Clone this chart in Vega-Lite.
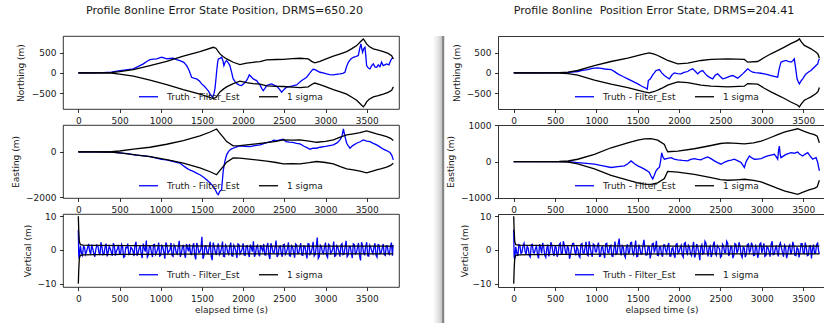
{
"$schema": "https://vega.github.io/schema/vega-lite/v6.json",
"background": "white",
"padding": {"left": 10, "top": 0, "right": 0, "bottom": 0},
"config": {
 "font": "DejaVu Sans",
 "view": {"stroke": "#000000", "strokeWidth": 0.8},
 "axis": {"grid": false, "domain": false, "format": "d", "tickColor": "#000000", "tickSize": 3.5, "tickWidth": 0.8, "labelFontSize": 9, "titleFontSize": 9, "labelColor": "#1a1a1a", "titleColor": "#1a1a1a", "titleFontWeight": "normal", "labelPadding": 3.5, "titlePadding": 4, "labelFlush": false, "labelOverlap": false, "labelBound": false, "domainColor": "#000000", "domainWidth": 0.8},
 "axisX": {"titlePadding": 2},
 "legend": {"orient": "none", "legendX": 75, "legendY": 50, "direction": "horizontal", "title": null, "symbolType": "stroke", "symbolSize": 361, "symbolStrokeWidth": 1.5, "labelFontSize": 9, "labelColor": "#1a1a1a", "labelOffset": 8, "columnPadding": 16, "padding": 0},
 "title": {"fontSize": 11.1, "fontWeight": "normal", "color": "#1a1a1a", "offset": 20, "lineHeight": 4, "anchor": "middle"},
 "line": {"strokeWidth": 1.3}
},
"datasets": {
 "LNe": [{"t":0,"v":0},{"t":150,"v":0},{"t":300,"v":5},{"t":400,"v":20},{"t":506,"v":57},{"t":580,"v":75},{"t":668,"v":98},{"t":730,"v":160},{"t":789,"v":222},{"t":830,"v":280},{"t":870,"v":328},{"t":910,"v":340},{"t":951,"v":345},{"t":1011,"v":386},{"t":1040,"v":370},{"t":1072,"v":345},{"t":1110,"v":355},{"t":1153,"v":361},{"t":1190,"v":330},{"t":1234,"v":304},{"t":1280,"v":260},{"t":1315,"v":180},{"t":1345,"v":60},{"t":1375,"v":-107},{"t":1400,"v":-130},{"t":1436,"v":-148},{"t":1470,"v":-200},{"t":1497,"v":-271},{"t":1530,"v":-330},{"t":1557,"v":-394},{"t":1580,"v":-450},{"t":1598,"v":-517},{"t":1615,"v":-560},{"t":1630,"v":-600},{"t":1645,"v":-520},{"t":1658,"v":-394},{"t":1668,"v":-200},{"t":1678,"v":16},{"t":1690,"v":250},{"t":1699,"v":345},{"t":1720,"v":360},{"t":1739,"v":386},{"t":1755,"v":300},{"t":1767,"v":180},{"t":1785,"v":280},{"t":1800,"v":304},{"t":1820,"v":250},{"t":1840,"v":180},{"t":1860,"v":20},{"t":1880,"v":-148},{"t":1905,"v":-220},{"t":1929,"v":-271},{"t":1955,"v":-300},{"t":1981,"v":-312},{"t":2010,"v":-260},{"t":2042,"v":-189},{"t":2060,"v":-120},{"t":2075,"v":-49},{"t":2095,"v":-90},{"t":2124,"v":-148},{"t":2145,"v":-170},{"t":2164,"v":-189},{"t":2185,"v":-250},{"t":2205,"v":-296},{"t":2225,"v":-380},{"t":2245,"v":-435},{"t":2265,"v":-380},{"t":2286,"v":-312},{"t":2315,"v":-290},{"t":2346,"v":-271},{"t":2375,"v":-300},{"t":2407,"v":-329},{"t":2440,"v":-400},{"t":2468,"v":-476},{"t":2500,"v":-400},{"t":2528,"v":-353},{"t":2560,"v":-340},{"t":2589,"v":-329},{"t":2620,"v":-310},{"t":2650,"v":-296},{"t":2680,"v":-240},{"t":2711,"v":-189},{"t":2740,"v":-150},{"t":2771,"v":-107},{"t":2800,"v":-30},{"t":2832,"v":57},{"t":2850,"v":90},{"t":2873,"v":82},{"t":2900,"v":50},{"t":2933,"v":16},{"t":2970,"v":0},{"t":3014,"v":-25},{"t":3050,"v":-40},{"t":3095,"v":-49},{"t":3130,"v":-35},{"t":3176,"v":-25},{"t":3210,"v":-10},{"t":3236,"v":16},{"t":3255,"v":150},{"t":3277,"v":263},{"t":3305,"v":340},{"t":3337,"v":386},{"t":3365,"v":400},{"t":3398,"v":427},{"t":3415,"v":600},{"t":3430,"v":714},{"t":3440,"v":600},{"t":3450,"v":509},{"t":3465,"v":600},{"t":3479,"v":632},{"t":3490,"v":400},{"t":3499,"v":180},{"t":3520,"v":120},{"t":3540,"v":98},{"t":3560,"v":180},{"t":3580,"v":222},{"t":3600,"v":150},{"t":3621,"v":140},{"t":3640,"v":200},{"t":3660,"v":150},{"t":3681,"v":263},{"t":3700,"v":180},{"t":3720,"v":200},{"t":3742,"v":222},{"t":3770,"v":200},{"t":3790,"v":300},{"t":3803,"v":345},{"t":3820,"v":380}],
 "LNs": [{"t":0,"u":0,"l":0},{"t":200,"u":0,"l":0},{"t":400,"u":5,"l":-5},{"t":500,"u":30,"l":-30},{"t":668,"u":82,"l":-82},{"t":870,"u":180,"l":-180},{"t":1072,"u":287,"l":-287},{"t":1274,"u":411,"l":-411},{"t":1476,"u":525,"l":-525},{"t":1638,"u":632,"l":-632},{"t":1670,"u":608,"l":-608},{"t":1719,"u":468,"l":-468},{"t":1760,"u":400,"l":-400},{"t":1800,"u":345,"l":-345},{"t":1880,"u":263,"l":-263},{"t":1961,"u":205,"l":-205},{"t":2042,"u":240,"l":-240},{"t":2120,"u":262,"l":-262},{"t":2205,"u":279,"l":-279},{"t":2286,"u":320,"l":-320},{"t":2400,"u":330,"l":-330},{"t":2488,"u":335,"l":-335},{"t":2600,"u":350,"l":-350},{"t":2690,"u":361,"l":-361},{"t":2791,"u":345,"l":-345},{"t":2832,"u":285,"l":-285},{"t":2870,"u":250,"l":-250},{"t":2933,"u":287,"l":-287},{"t":3000,"u":340,"l":-340},{"t":3095,"u":411,"l":-411},{"t":3180,"u":470,"l":-470},{"t":3257,"u":525,"l":-525},{"t":3320,"u":600,"l":-600},{"t":3378,"u":673,"l":-673},{"t":3430,"u":780,"l":-780},{"t":3459,"u":837,"l":-837},{"t":3480,"u":780,"l":-780},{"t":3499,"u":714,"l":-714},{"t":3530,"u":650,"l":-650},{"t":3580,"u":591,"l":-591},{"t":3640,"u":560,"l":-560},{"t":3702,"u":525,"l":-525},{"t":3760,"u":480,"l":-480},{"t":3803,"u":427,"l":-427},{"t":3823,"u":345,"l":-345}],
 "LEe": [{"t":0,"v":0},{"t":200,"v":0},{"t":400,"v":-10},{"t":500,"v":-40},{"t":600,"v":-80},{"t":700,"v":-140},{"t":800,"v":-180},{"t":870,"v":-206},{"t":950,"v":-280},{"t":1010,"v":-330},{"t":1072,"v":-353},{"t":1110,"v":-390},{"t":1153,"v":-426},{"t":1200,"v":-480},{"t":1234,"v":-500},{"t":1270,"v":-600},{"t":1315,"v":-720},{"t":1350,"v":-800},{"t":1396,"v":-867},{"t":1440,"v":-950},{"t":1476,"v":-1014},{"t":1520,"v":-1120},{"t":1557,"v":-1235},{"t":1600,"v":-1380},{"t":1638,"v":-1529},{"t":1665,"v":-1700},{"t":1685,"v":-1850},{"t":1699,"v":-1896},{"t":1715,"v":-1750},{"t":1739,"v":-1676},{"t":1750,"v":-1200},{"t":1760,"v":-794},{"t":1780,"v":-400},{"t":1800,"v":-132},{"t":1820,"v":0},{"t":1840,"v":88},{"t":1860,"v":130},{"t":1880,"v":162},{"t":1920,"v":220},{"t":1961,"v":265},{"t":2020,"v":250},{"t":2083,"v":235},{"t":2140,"v":280},{"t":2205,"v":309},{"t":2250,"v":370},{"t":2286,"v":412},{"t":2340,"v":450},{"t":2370,"v":520},{"t":2407,"v":500},{"t":2450,"v":530},{"t":2488,"v":559},{"t":2520,"v":456},{"t":2560,"v":430},{"t":2600,"v":420},{"t":2650,"v":380},{"t":2690,"v":353},{"t":2740,"v":250},{"t":2780,"v":180},{"t":2811,"v":118},{"t":2850,"v":170},{"t":2892,"v":162},{"t":2933,"v":206},{"t":3000,"v":240},{"t":3050,"v":280},{"t":3095,"v":309},{"t":3140,"v":400},{"t":3176,"v":529},{"t":3200,"v":700},{"t":3217,"v":1014},{"t":3235,"v":700},{"t":3257,"v":382},{"t":3280,"v":250},{"t":3297,"v":162},{"t":3330,"v":280},{"t":3378,"v":382},{"t":3420,"v":450},{"t":3459,"v":529},{"t":3500,"v":480},{"t":3540,"v":456},{"t":3580,"v":380},{"t":3621,"v":309},{"t":3660,"v":220},{"t":3702,"v":118},{"t":3740,"v":60},{"t":3783,"v":-29},{"t":3805,"v":-150},{"t":3823,"v":-353}],
 "LEs": [{"t":0,"u":0,"l":0},{"t":200,"u":0,"l":0},{"t":400,"u":5,"l":-5},{"t":500,"u":40,"l":-40},{"t":668,"u":118,"l":-118},{"t":870,"u":206,"l":-206},{"t":1072,"u":338,"l":-338},{"t":1274,"u":500,"l":-500},{"t":1476,"u":706,"l":-706},{"t":1600,"u":880,"l":-880},{"t":1678,"u":1014,"l":-1014},{"t":1719,"u":823,"l":-823},{"t":1760,"u":640,"l":-640},{"t":1800,"u":456,"l":-456},{"t":1880,"u":265,"l":-265},{"t":1961,"u":279,"l":-279},{"t":2100,"u":330,"l":-330},{"t":2286,"u":412,"l":-412},{"t":2400,"u":470,"l":-470},{"t":2488,"u":529,"l":-529},{"t":2600,"u":520,"l":-520},{"t":2690,"u":529,"l":-529},{"t":2800,"u":480,"l":-480},{"t":2892,"u":426,"l":-426},{"t":3000,"u":470,"l":-470},{"t":3095,"u":529,"l":-529},{"t":3180,"u":650,"l":-650},{"t":3257,"u":750,"l":-750},{"t":3340,"u":800,"l":-800},{"t":3419,"u":853,"l":-853},{"t":3499,"u":926,"l":-926},{"t":3560,"u":860,"l":-860},{"t":3621,"u":794,"l":-794},{"t":3680,"u":740,"l":-740},{"t":3742,"u":676,"l":-676},{"t":3790,"u":600,"l":-600},{"t":3823,"u":500,"l":-500}],
 "LVe": [{"t":0,"v":6},{"t":5,"v":-1.5},{"t":10,"v":-2.5},{"t":25,"v":1.2},{"t":37.5,"v":-0.9},{"t":50,"v":-1.6},{"t":62.5,"v":1.1},{"t":75,"v":0.8},{"t":87.5,"v":-1.3},{"t":100,"v":-0.5},{"t":112.5,"v":0.7},{"t":125,"v":1.8},{"t":137.5,"v":-0.4},{"t":150,"v":-1.2},{"t":162.5,"v":1.6},{"t":175,"v":0.4},{"t":187.5,"v":-1.0},{"t":200,"v":-2.0},{"t":212.5,"v":0.2},{"t":225,"v":1.5},{"t":237.5,"v":1.3},{"t":250,"v":-0.8},{"t":262.5,"v":-1.5},{"t":275,"v":2.3},{"t":287.5,"v":0.8},{"t":300,"v":-1.4},{"t":312.5,"v":-1.1},{"t":325,"v":0.9},{"t":337.5,"v":1.9},{"t":350,"v":-1.9},{"t":362.5,"v":-0.6},{"t":375,"v":1.1},{"t":387.5,"v":0.4},{"t":400,"v":-0.6},{"t":412.5,"v":-1.7},{"t":425,"v":2.0},{"t":437.5,"v":1.2},{"t":450,"v":-1.7},{"t":462.5,"v":-0.3},{"t":475,"v":0.3},{"t":487.5,"v":1.5},{"t":500,"v":-1.1},{"t":512.5,"v":-1.2},{"t":525,"v":1.6},{"t":537.5,"v":0.9},{"t":550,"v":-2.2},{"t":562.5,"v":-2.0},{"t":575,"v":0.7},{"t":587.5,"v":0.6},{"t":600,"v":1.9},{"t":612.5,"v":-1.4},{"t":625,"v":-1.3},{"t":637.5,"v":0.8},{"t":650,"v":0.5},{"t":662.5,"v":-0.3},{"t":675,"v":-1.8},{"t":687.5,"v":1.4},{"t":700,"v":2.4},{"t":712.5,"v":-1.7},{"t":725,"v":-0.9},{"t":737.5,"v":0.5},{"t":750,"v":1.3},{"t":762.5,"v":-1.0},{"t":775,"v":-2.4},{"t":787.5,"v":1.9},{"t":800,"v":0.6},{"t":812.5,"v":-0.5},{"t":825,"v":2.8},{"t":837.5,"v":-2.1},{"t":850,"v":-1.5},{"t":862.5,"v":1.1},{"t":875,"v":1.0},{"t":887.5,"v":-0.7},{"t":900,"v":-2.1},{"t":912.5,"v":1.6},{"t":925,"v":1.7},{"t":937.5,"v":-1.3},{"t":950,"v":-0.7},{"t":962.5,"v":0.2},{"t":975,"v":2.2},{"t":987.5,"v":-1.8},{"t":1000,"v":-1.6},{"t":1012.5,"v":1.3},{"t":1025,"v":0.8},{"t":1037.5,"v":-0.6},{"t":1050,"v":-2.6},{"t":1062.5,"v":2.2},{"t":1075,"v":1.4},{"t":1087.5,"v":-1.0},{"t":1100,"v":-0.4},{"t":1112.5,"v":0.1},{"t":1125,"v":2.1},{"t":1137.5,"v":-1.6},{"t":1150,"v":-1.9},{"t":1162.5,"v":1.5},{"t":1175,"v":0.9},{"t":1187.5,"v":-0.8},{"t":1200,"v":-1.2},{"t":1212.5,"v":0.9},{"t":1225,"v":2.7},{"t":1237.5,"v":-2.0},{"t":1250,"v":-1.0},{"t":1262.5,"v":0.7},{"t":1275,"v":1.5},{"t":1287.5,"v":-1.1},{"t":1300,"v":-2.3},{"t":1312.5,"v":1.8},{"t":1325,"v":0.6},{"t":1337.5,"v":-0.4},{"t":1350,"v":1.8},{"t":1362.5,"v":-1.3},{"t":1375,"v":-1.4},{"t":1387.5,"v":1.0},{"t":1400,"v":2.0},{"t":1412.5,"v":-1.5},{"t":1425,"v":-2.8},{"t":1437.5,"v":2.1},{"t":1450,"v":1.1},{"t":1462.5,"v":-0.8},{"t":1475,"v":-0.6},{"t":1487.5,"v":0.3},{"t":1500,"v":3.9},{"t":1512.5,"v":-2.6},{"t":1525,"v":-1.7},{"t":1537.5,"v":1.2},{"t":1550,"v":1.2},{"t":1562.5,"v":-0.9},{"t":1575,"v":-1.1},{"t":1587.5,"v":0.8},{"t":1600,"v":2.4},{"t":1612.5,"v":-1.8},{"t":1625,"v":-3.0},{"t":1637.5,"v":2.2},{"t":1650,"v":0.9},{"t":1662.5,"v":-0.6},{"t":1675,"v":-1.5},{"t":1687.5,"v":1.1},{"t":1700,"v":1.9},{"t":1712.5,"v":-1.4},{"t":1725,"v":-0.8},{"t":1737.5,"v":0.5},{"t":1750,"v":2.5},{"t":1762.5,"v":-1.9},{"t":1775,"v":-2.0},{"t":1787.5,"v":1.5},{"t":1800,"v":1.0},{"t":1812.5,"v":-0.7},{"t":1825,"v":-1.3},{"t":1837.5,"v":1.0},{"t":1850,"v":2.2},{"t":1862.5,"v":-1.7},{"t":1875,"v":-1.8},{"t":1887.5,"v":1.4},{"t":1900,"v":0.7},{"t":1912.5,"v":-0.4},{"t":1925,"v":-2.4},{"t":1937.5,"v":1.8},{"t":1950,"v":1.6},{"t":1962.5,"v":-1.2},{"t":1975,"v":-0.5},{"t":1987.5,"v":0.2},{"t":2000,"v":2.0},{"t":2012.5,"v":-1.5},{"t":2025,"v":-1.6},{"t":2037.5,"v":1.2},{"t":2050,"v":1.3},{"t":2062.5,"v":-0.9},{"t":2075,"v":-2.1},{"t":2087.5,"v":1.6},{"t":2100,"v":0.8},{"t":2112.5,"v":-0.5},{"t":2125,"v":2.6},{"t":2137.5,"v":-2.0},{"t":2150,"v":-1.2},{"t":2162.5,"v":1.0},{"t":2175,"v":1.4},{"t":2187.5,"v":-1.1},{"t":2200,"v":-1.9},{"t":2212.5,"v":1.4},{"t":2225,"v":0.5},{"t":2237.5,"v":-0.3},{"t":2250,"v":1.8},{"t":2262.5,"v":-1.4},{"t":2275,"v":-1.5},{"t":2287.5,"v":1.1},{"t":2300,"v":2.1},{"t":2312.5,"v":-1.6},{"t":2325,"v":-2.7},{"t":2337.5,"v":2.0},{"t":2350,"v":1.0},{"t":2362.5,"v":-0.7},{"t":2375,"v":-0.9},{"t":2387.5,"v":0.6},{"t":2400,"v":2.8},{"t":2412.5,"v":-2.1},{"t":2425,"v":-1.4},{"t":2437.5,"v":1.0},{"t":2450,"v":1.2},{"t":2462.5,"v":-0.9},{"t":2475,"v":-2.0},{"t":2487.5,"v":1.5},{"t":2500,"v":1.7},{"t":2512.5,"v":-1.3},{"t":2525,"v":-0.7},{"t":2537.5,"v":0.4},{"t":2550,"v":2.3},{"t":2562.5,"v":-1.7},{"t":2575,"v":-1.8},{"t":2587.5,"v":1.3},{"t":2600,"v":0.9},{"t":2612.5,"v":-0.6},{"t":2625,"v":-2.3},{"t":2637.5,"v":1.8},{"t":2650,"v":1.5},{"t":2662.5,"v":-1.1},{"t":2675,"v":-1.0},{"t":2687.5,"v":0.7},{"t":2700,"v":2.0},{"t":2712.5,"v":-1.5},{"t":2725,"v":-1.6},{"t":2737.5,"v":1.2},{"t":2750,"v":1.1},{"t":2762.5,"v":-0.8},{"t":2775,"v":-2.5},{"t":2787.5,"v":1.9},{"t":2800,"v":1.8},{"t":2812.5,"v":-1.3},{"t":2825,"v":-0.8},{"t":2837.5,"v":0.5},{"t":2850,"v":2.4},{"t":2862.5,"v":-1.8},{"t":2875,"v":-1.3},{"t":2887.5,"v":0.9},{"t":2900,"v":3.7},{"t":2912.5,"v":-2.5},{"t":2925,"v":-1.9},{"t":2937.5,"v":1.4},{"t":2950,"v":1.0},{"t":2962.5,"v":-0.7},{"t":2975,"v":-1.1},{"t":2987.5,"v":0.8},{"t":3000,"v":2.2},{"t":3012.5,"v":-1.6},{"t":3025,"v":-2.2},{"t":3037.5,"v":1.7},{"t":3050,"v":1.4},{"t":3062.5,"v":-1.0},{"t":3075,"v":-0.6},{"t":3087.5,"v":0.3},{"t":3100,"v":2.5},{"t":3112.5,"v":-1.9},{"t":3125,"v":-1.7},{"t":3137.5,"v":1.3},{"t":3150,"v":0.8},{"t":3162.5,"v":-0.5},{"t":3175,"v":-2.0},{"t":3187.5,"v":1.5},{"t":3200,"v":1.9},{"t":3212.5,"v":-1.4},{"t":3225,"v":-1.2},{"t":3237.5,"v":0.9},{"t":3250,"v":2.7},{"t":3262.5,"v":-2.0},{"t":3275,"v":-1.5},{"t":3287.5,"v":1.1},{"t":3300,"v":1.1},{"t":3312.5,"v":-0.8},{"t":3325,"v":-2.4},{"t":3337.5,"v":1.8},{"t":3350,"v":1.6},{"t":3362.5,"v":-1.2},{"t":3375,"v":-0.9},{"t":3387.5,"v":0.6},{"t":3400,"v":2.1},{"t":3412.5,"v":-1.6},{"t":3425,"v":-3.1},{"t":3437.5,"v":2.3},{"t":3450,"v":1.3},{"t":3462.5,"v":-1.0},{"t":3475,"v":-1.4},{"t":3487.5,"v":1.0},{"t":3500,"v":2.3},{"t":3512.5,"v":-1.7},{"t":3525,"v":-1.8},{"t":3537.5,"v":1.4},{"t":3550,"v":0.7},{"t":3562.5,"v":-0.4},{"t":3575,"v":-1.1},{"t":3587.5,"v":0.8},{"t":3600,"v":2.0},{"t":3612.5,"v":-1.5},{"t":3625,"v":-2.1},{"t":3637.5,"v":1.6},{"t":3650,"v":1.5},{"t":3662.5,"v":-1.1},{"t":3675,"v":-0.8},{"t":3687.5,"v":0.5},{"t":3700,"v":1.8},{"t":3712.5,"v":-1.3},{"t":3725,"v":-1.6},{"t":3737.5,"v":1.2},{"t":3750,"v":1.2},{"t":3762.5,"v":-0.9},{"t":3775,"v":-1.3},{"t":3787.5,"v":1.0},{"t":3800,"v":2.2},{"t":3812.5,"v":-1.7},{"t":3820,"v":1.5}],
 "LVs": [{"t":0,"u":10,"l":-10},{"t":5,"u":6,"l":-6},{"t":12,"u":2.5,"l":-2.5},{"t":25,"u":1.6,"l":-1.6},{"t":60,"u":1.45,"l":-1.45},{"t":200,"u":1.35,"l":-1.35},{"t":600,"u":1.28,"l":-1.28},{"t":1200,"u":1.22,"l":-1.22},{"t":2000,"u":1.18,"l":-1.18},{"t":3000,"u":1.15,"l":-1.15},{"t":3823,"u":1.13,"l":-1.13}],
 "RNe": [{"t":0,"v":0},{"t":300,"v":0},{"t":500,"v":5},{"t":660,"v":10},{"t":774,"v":33},{"t":830,"v":60},{"t":895,"v":82},{"t":950,"v":110},{"t":1016,"v":124},{"t":1060,"v":110},{"t":1100,"v":95},{"t":1177,"v":82},{"t":1220,"v":30},{"t":1258,"v":-25},{"t":1320,"v":-90},{"t":1379,"v":-148},{"t":1440,"v":-210},{"t":1500,"v":-272},{"t":1550,"v":-330},{"t":1600,"v":-379},{"t":1615,"v":-400},{"t":1628,"v":-190},{"t":1653,"v":-148},{"t":1681,"v":-49},{"t":1700,"v":0},{"t":1721,"v":58},{"t":1740,"v":70},{"t":1761,"v":82},{"t":1790,"v":0},{"t":1822,"v":-66},{"t":1850,"v":-110},{"t":1882,"v":-148},{"t":1910,"v":-60},{"t":1943,"v":0},{"t":1980,"v":-20},{"t":2023,"v":-25},{"t":2060,"v":10},{"t":2104,"v":33},{"t":2130,"v":70},{"t":2164,"v":99},{"t":2195,"v":40},{"t":2225,"v":-25},{"t":2255,"v":30},{"t":2285,"v":58},{"t":2315,"v":-20},{"t":2346,"v":-82},{"t":2375,"v":-120},{"t":2406,"v":-148},{"t":2435,"v":-60},{"t":2467,"v":-25},{"t":2497,"v":-90},{"t":2527,"v":-148},{"t":2558,"v":-130},{"t":2588,"v":-107},{"t":2618,"v":-80},{"t":2648,"v":-66},{"t":2680,"v":-100},{"t":2709,"v":-132},{"t":2740,"v":-80},{"t":2769,"v":-25},{"t":2800,"v":40},{"t":2829,"v":99},{"t":2860,"v":50},{"t":2890,"v":16},{"t":2920,"v":5},{"t":2950,"v":0},{"t":2990,"v":-10},{"t":3031,"v":-25},{"t":3070,"v":-45},{"t":3111,"v":-66},{"t":3150,"v":-85},{"t":3192,"v":-107},{"t":3210,"v":100},{"t":3232,"v":264},{"t":3260,"v":290},{"t":3293,"v":305},{"t":3320,"v":280},{"t":3353,"v":264},{"t":3375,"v":300},{"t":3393,"v":346},{"t":3410,"v":100},{"t":3426,"v":-148},{"t":3440,"v":-220},{"t":3454,"v":-272},{"t":3475,"v":-200},{"t":3494,"v":-148},{"t":3515,"v":-80},{"t":3535,"v":-25},{"t":3565,"v":20},{"t":3595,"v":58},{"t":3615,"v":100},{"t":3635,"v":140},{"t":3655,"v":180},{"t":3676,"v":222},{"t":3686,"v":300},{"t":3696,"v":346}],
 "RNs": [{"t":0,"u":0,"l":0},{"t":300,"u":0,"l":0},{"t":550,"u":5,"l":-5},{"t":658,"u":20,"l":-20},{"t":774,"u":58,"l":-58},{"t":976,"u":181,"l":-181},{"t":1177,"u":280,"l":-280},{"t":1379,"u":363,"l":-363},{"t":1580,"u":470,"l":-470},{"t":1640,"u":494,"l":-494},{"t":1700,"u":460,"l":-460},{"t":1741,"u":428,"l":-428},{"t":1800,"u":370,"l":-370},{"t":1862,"u":305,"l":-305},{"t":1983,"u":222,"l":-222},{"t":2104,"u":239,"l":-239},{"t":2265,"u":305,"l":-305},{"t":2386,"u":330,"l":-330},{"t":2588,"u":346,"l":-346},{"t":2789,"u":330,"l":-330},{"t":2829,"u":264,"l":-264},{"t":2950,"u":280,"l":-280},{"t":3030,"u":380,"l":-380},{"t":3111,"u":470,"l":-470},{"t":3190,"u":550,"l":-550},{"t":3273,"u":634,"l":-634},{"t":3350,"u":720,"l":-720},{"t":3434,"u":799,"l":-799},{"t":3454,"u":840,"l":-840},{"t":3480,"u":760,"l":-760},{"t":3514,"u":676,"l":-676},{"t":3550,"u":640,"l":-640},{"t":3595,"u":593,"l":-593},{"t":3656,"u":511,"l":-511},{"t":3680,"u":460,"l":-460},{"t":3696,"u":363,"l":-363}],
 "REe": [{"t":0,"v":0},{"t":300,"v":0},{"t":660,"v":0},{"t":774,"v":-27},{"t":880,"v":-50},{"t":976,"v":-73},{"t":1080,"v":-120},{"t":1177,"v":-164},{"t":1260,"v":-140},{"t":1339,"v":-118},{"t":1380,"v":-60},{"t":1419,"v":18},{"t":1460,"v":-60},{"t":1500,"v":-118},{"t":1540,"v":-160},{"t":1580,"v":-209},{"t":1610,"v":-250},{"t":1640,"v":-300},{"t":1660,"v":-400},{"t":1681,"v":-482},{"t":1700,"v":-380},{"t":1721,"v":-255},{"t":1740,"v":-200},{"t":1761,"v":-164},{"t":1775,"v":0},{"t":1789,"v":245},{"t":1805,"v":120},{"t":1822,"v":64},{"t":1860,"v":90},{"t":1903,"v":109},{"t":1940,"v":70},{"t":1983,"v":45},{"t":2040,"v":30},{"t":2104,"v":18},{"t":2140,"v":60},{"t":2184,"v":82},{"t":2225,"v":60},{"t":2265,"v":45},{"t":2300,"v":90},{"t":2346,"v":127},{"t":2385,"v":80},{"t":2426,"v":18},{"t":2465,"v":-30},{"t":2507,"v":-73},{"t":2545,"v":-20},{"t":2588,"v":18},{"t":2630,"v":40},{"t":2668,"v":64},{"t":2710,"v":20},{"t":2749,"v":-27},{"t":2770,"v":-100},{"t":2789,"v":-164},{"t":2810,"v":0},{"t":2850,"v":155},{"t":2880,"v":100},{"t":2910,"v":64},{"t":2950,"v":70},{"t":2991,"v":82},{"t":3030,"v":120},{"t":3071,"v":155},{"t":3110,"v":180},{"t":3152,"v":200},{"t":3175,"v":130},{"t":3192,"v":64},{"t":3202,"v":300},{"t":3212,"v":427},{"t":3222,"v":200},{"t":3232,"v":109},{"t":3260,"v":150},{"t":3293,"v":200},{"t":3320,"v":220},{"t":3353,"v":245},{"t":3390,"v":230},{"t":3434,"v":264},{"t":3460,"v":200},{"t":3494,"v":155},{"t":3520,"v":200},{"t":3555,"v":245},{"t":3585,"v":150},{"t":3615,"v":64},{"t":3635,"v":90},{"t":3656,"v":109},{"t":3666,"v":40},{"t":3676,"v":-27},{"t":3686,"v":-150},{"t":3696,"v":-255}],
 "REs": [{"t":0,"u":0,"l":0},{"t":300,"u":0,"l":0},{"t":550,"u":5,"l":-5},{"t":658,"u":15,"l":-15},{"t":774,"u":64,"l":-64},{"t":976,"u":200,"l":-200},{"t":1177,"u":382,"l":-382},{"t":1379,"u":518,"l":-518},{"t":1500,"u":591,"l":-591},{"t":1580,"u":627,"l":-627},{"t":1661,"u":636,"l":-636},{"t":1741,"u":591,"l":-591},{"t":1822,"u":473,"l":-473},{"t":1845,"u":350,"l":-350},{"t":1862,"u":273,"l":-273},{"t":1983,"u":291,"l":-291},{"t":2184,"u":355,"l":-355},{"t":2386,"u":445,"l":-445},{"t":2500,"u":500,"l":-500},{"t":2588,"u":518,"l":-518},{"t":2700,"u":505,"l":-505},{"t":2789,"u":491,"l":-491},{"t":2900,"u":520,"l":-520},{"t":2991,"u":564,"l":-564},{"t":3100,"u":660,"l":-660},{"t":3192,"u":745,"l":-745},{"t":3280,"u":820,"l":-820},{"t":3353,"u":864,"l":-864},{"t":3434,"u":909,"l":-909},{"t":3514,"u":836,"l":-836},{"t":3580,"u":780,"l":-780},{"t":3635,"u":745,"l":-745},{"t":3670,"u":700,"l":-700},{"t":3696,"u":518,"l":-518}],
 "RVe": [{"t":0,"v":6},{"t":5,"v":-2.0},{"t":12,"v":-2.8},{"t":25,"v":0.9},{"t":37.5,"v":-0.9},{"t":50,"v":-1.8},{"t":62.5,"v":1.6},{"t":75,"v":1.4},{"t":87.5,"v":-1.0},{"t":100,"v":-0.7},{"t":112.5,"v":1.3},{"t":125,"v":2.0},{"t":137.5,"v":-0.5},{"t":150,"v":-1.3},{"t":162.5,"v":1.1},{"t":175,"v":0.6},{"t":187.5,"v":-1.6},{"t":200,"v":-2.1},{"t":212.5,"v":1.5},{"t":225,"v":1.7},{"t":237.5,"v":-0.8},{"t":250,"v":-0.9},{"t":262.5,"v":0.4},{"t":275,"v":1.2},{"t":287.5,"v":-1.3},{"t":300,"v":-2.5},{"t":312.5,"v":1.7},{"t":325,"v":0.8},{"t":337.5,"v":-1.0},{"t":350,"v":2.1},{"t":362.5,"v":0.9},{"t":375,"v":-1.5},{"t":387.5,"v":-2.2},{"t":400,"v":0.5},{"t":412.5,"v":1.6},{"t":425,"v":-1.9},{"t":437.5,"v":-0.6},{"t":450,"v":2.3},{"t":462.5,"v":1.2},{"t":475,"v":-0.8},{"t":487.5,"v":-1.8},{"t":500,"v":1.1},{"t":512.5,"v":0.8},{"t":525,"v":-2.0},{"t":537.5,"v":-1.1},{"t":550,"v":1.6},{"t":562.5,"v":2.0},{"t":575,"v":-1.2},{"t":587.5,"v":-0.9},{"t":600,"v":2.6},{"t":612.5,"v":1.4},{"t":625,"v":-0.5},{"t":637.5,"v":-1.5},{"t":650,"v":1.3},{"t":662.5,"v":0.5},{"t":675,"v":-2.6},{"t":687.5,"v":-1.3},{"t":700,"v":0.9},{"t":712.5,"v":1.9},{"t":725,"v":2.0},{"t":737.5,"v":-0.3},{"t":750,"v":-1.6},{"t":762.5,"v":1.0},{"t":775,"v":0.4},{"t":787.5,"v":-1.7},{"t":800,"v":-2.2},{"t":812.5,"v":1.6},{"t":825,"v":1.9},{"t":837.5,"v":-0.8},{"t":850,"v":-1.0},{"t":862.5,"v":0.7},{"t":875,"v":2.4},{"t":887.5,"v":-1.4},{"t":900,"v":-1.7},{"t":912.5,"v":2.6},{"t":925,"v":0.7},{"t":937.5,"v":-1.0},{"t":950,"v":-2.0},{"t":962.5,"v":1.8},{"t":975,"v":1.5},{"t":987.5,"v":-0.5},{"t":1000,"v":-0.6},{"t":1012.5,"v":1.3},{"t":1025,"v":2.2},{"t":1037.5,"v":-1.9},{"t":1050,"v":-1.8},{"t":1062.5,"v":0.8},{"t":1075,"v":1.0},{"t":1087.5,"v":-1.0},{"t":1100,"v":-2.4},{"t":1112.5,"v":1.8},{"t":1125,"v":2.0},{"t":1137.5,"v":-0.7},{"t":1150,"v":-0.9},{"t":1162.5,"v":1.1},{"t":1175,"v":1.4},{"t":1187.5,"v":-1.8},{"t":1200,"v":-1.9},{"t":1212.5,"v":0.6},{"t":1225,"v":2.5},{"t":1237.5,"v":-1.3},{"t":1250,"v":-1.1},{"t":1262.5,"v":1.7},{"t":1275,"v":3.4},{"t":1287.5,"v":-0.4},{"t":1300,"v":-1.6},{"t":1312.5,"v":1.3},{"t":1325,"v":0.8},{"t":1337.5,"v":-1.5},{"t":1350,"v":-2.2},{"t":1362.5,"v":0.8},{"t":1375,"v":1.7},{"t":1387.5,"v":-1.0},{"t":1400,"v":-0.7},{"t":1412.5,"v":2.1},{"t":1425,"v":2.3},{"t":1437.5,"v":-0.6},{"t":1450,"v":-1.4},{"t":1462.5,"v":0.7},{"t":1475,"v":2.8},{"t":1487.5,"v":-2.0},{"t":1500,"v":-1.9},{"t":1512.5,"v":1.6},{"t":1525,"v":0.6},{"t":1537.5,"v":-1.1},{"t":1550,"v":-1.2},{"t":1562.5,"v":1.4},{"t":1575,"v":3.0},{"t":1587.5,"v":0.3},{"t":1600,"v":-1.5},{"t":1612.5,"v":-1.4},{"t":1625,"v":1.1},{"t":1637.5,"v":1.0},{"t":1650,"v":-2.5},{"t":1662.5,"v":-0.9},{"t":1675,"v":1.8},{"t":1687.5,"v":2.0},{"t":1700,"v":-0.8},{"t":1712.5,"v":0.5},{"t":1725,"v":2.7},{"t":1737.5,"v":-1.6},{"t":1750,"v":-1.7},{"t":1762.5,"v":0.9},{"t":1775,"v":0.9},{"t":1787.5,"v":-1.2},{"t":1800,"v":-2.0},{"t":1812.5,"v":1.5},{"t":1825,"v":1.5},{"t":1837.5,"v":-0.2},{"t":1850,"v":-1.0},{"t":1862.5,"v":1.2},{"t":1875,"v":2.1},{"t":1887.5,"v":-1.8},{"t":1900,"v":-1.8},{"t":1912.5,"v":0.4},{"t":1925,"v":0.7},{"t":1937.5,"v":-1.4},{"t":1950,"v":-2.3},{"t":1962.5,"v":1.7},{"t":1975,"v":1.9},{"t":1987.5,"v":-1.0},{"t":2000,"v":-0.6},{"t":2012.5,"v":0.7},{"t":2025,"v":1.4},{"t":2037.5,"v":-1.5},{"t":2050,"v":-2.1},{"t":2062.5,"v":1.9},{"t":2075,"v":2.2},{"t":2087.5,"v":-0.5},{"t":2100,"v":-1.2},{"t":2112.5,"v":1.4},{"t":2125,"v":0.9},{"t":2137.5,"v":-1.1},{"t":2150,"v":-1.7},{"t":2162.5,"v":0.6},{"t":2175,"v":2.4},{"t":2187.5,"v":-2.2},{"t":2200,"v":-1.4},{"t":2212.5,"v":1.8},{"t":2225,"v":1.0},{"t":2237.5,"v":-0.8},{"t":2250,"v":-3.0},{"t":2262.5,"v":0.9},{"t":2275,"v":1.6},{"t":2287.5,"v":-1.2},{"t":2300,"v":-0.9},{"t":2312.5,"v":2.6},{"t":2325,"v":2.0},{"t":2337.5,"v":-0.3},{"t":2350,"v":-1.9},{"t":2362.5,"v":0.8},{"t":2375,"v":1.2},{"t":2387.5,"v":-2.1},{"t":2400,"v":-1.1},{"t":2412.5,"v":1.5},{"t":2425,"v":2.5},{"t":2437.5,"v":-1.0},{"t":2450,"v":-1.6},{"t":2462.5,"v":1.3},{"t":2475,"v":0.8},{"t":2487.5,"v":0.4},{"t":2500,"v":-2.2},{"t":2512.5,"v":-1.8},{"t":2525,"v":1.7},{"t":2537.5,"v":1.1},{"t":2550,"v":-0.7},{"t":2562.5,"v":-0.7},{"t":2575,"v":2.6},{"t":2587.5,"v":2.0},{"t":2600,"v":-1.8},{"t":2612.5,"v":-0.9},{"t":2625,"v":1.1},{"t":2637.5,"v":0.8},{"t":2650,"v":-2.4},{"t":2662.5,"v":-1.5},{"t":2675,"v":1.9},{"t":2687.5,"v":1.6},{"t":2700,"v":-1.0},{"t":2712.5,"v":-0.1},{"t":2725,"v":2.3},{"t":2737.5,"v":1.0},{"t":2750,"v":-1.5},{"t":2762.5,"v":-2.2},{"t":2775,"v":0.9},{"t":2787.5,"v":0.6},{"t":2800,"v":-2.1},{"t":2812.5,"v":-1.3},{"t":2825,"v":1.6},{"t":2837.5,"v":1.8},{"t":2850,"v":-0.8},{"t":2862.5,"v":-0.2},{"t":2875,"v":2.2},{"t":2887.5,"v":1.3},{"t":2900,"v":-1.7},{"t":2912.5,"v":-1.6},{"t":2925,"v":1.3},{"t":2937.5,"v":0.7},{"t":2950,"v":-2.3},{"t":2962.5,"v":-1.1},{"t":2975,"v":1.8},{"t":2987.5,"v":2.1},{"t":3000,"v":-0.9},{"t":3012.5,"v":0.5},{"t":3025,"v":2.0},{"t":3037.5,"v":-1.9},{"t":3050,"v":-1.6},{"t":3062.5,"v":1.0},{"t":3075,"v":0.7},{"t":3087.5,"v":-0.5},{"t":3100,"v":-2.0},{"t":3112.5,"v":1.7},{"t":3125,"v":2.6},{"t":3137.5,"v":-1.4},{"t":3150,"v":-1.2},{"t":3162.5,"v":0.3},{"t":3175,"v":1.4},{"t":3187.5,"v":-0.8},{"t":3200,"v":-1.9},{"t":3212.5,"v":1.4},{"t":3225,"v":2.1},{"t":3237.5,"v":0.6},{"t":3250,"v":-0.8},{"t":3262.5,"v":-2.0},{"t":3275,"v":1.5},{"t":3287.5,"v":0.9},{"t":3300,"v":-2.4},{"t":3312.5,"v":-1.2},{"t":3325,"v":1.0},{"t":3337.5,"v":1.5},{"t":3350,"v":-1.3},{"t":3362.5,"v":-0.3},{"t":3375,"v":2.4},{"t":3387.5,"v":1.2},{"t":3400,"v":-1.6},{"t":3412.5,"v":-1.7},{"t":3425,"v":0.8},{"t":3437.5,"v":0.4},{"t":3450,"v":-2.2},{"t":3462.5,"v":-0.6},{"t":3475,"v":1.9},{"t":3487.5,"v":1.9},{"t":3500,"v":-1.0},{"t":3512.5,"v":-1.1},{"t":3525,"v":2.2},{"t":3537.5,"v":0.8},{"t":3550,"v":-1.7},{"t":3562.5,"v":-1.5},{"t":3575,"v":1.2},{"t":3587.5,"v":1.3},{"t":3600,"v":-2.5},{"t":3612.5,"v":0.2},{"t":3625,"v":1.6},{"t":3637.5,"v":-1.0},{"t":3650,"v":-0.9},{"t":3662.5,"v":1.6},{"t":3675,"v":2.0},{"t":3687.5,"v":-0.4},{"t":3696,"v":-1.2}],
 "RVs": [{"t":0,"u":10,"l":-10},{"t":5,"u":6,"l":-6},{"t":12,"u":2.5,"l":-2.5},{"t":25,"u":1.6,"l":-1.6},{"t":60,"u":1.45,"l":-1.45},{"t":200,"u":1.35,"l":-1.35},{"t":600,"u":1.28,"l":-1.28},{"t":1200,"u":1.22,"l":-1.22},{"t":2000,"u":1.18,"l":-1.18},{"t":3000,"u":1.15,"l":-1.15},{"t":3696,"u":1.13,"l":-1.13}]
},
"spacing": 0,
"bounds": "full",
"resolve": {"scale": {"x": "independent", "y": "independent", "color": "independent"}, "legend": {"color": "independent"}},
"hconcat": [
 {
  "title": {"text": ["", "Profile 8online Error State Position, DRMS=650.20"], "anchor": "middle", "dx": 19.5},
  "spacing": 16,
  "bounds": "flush",
  "resolve": {"scale": {"x": "independent", "y": "independent", "color": "independent"}, "legend": {"color": "independent"}},
  "vconcat": [
   {"width": 336, "height": 73,
    "layer": [
     {"data": {"name": "LNe"}, "mark": "line", "encoding": {
       "x": {"field": "t", "type": "quantitative", "title": null, "scale": {"domain": [-186, 3892], "nice": false, "zero": false}, "axis": {"values": [0,500,1000,1500,2000,2500,3000,3500], "format": "d", "labelOverlap": false}},
       "y": {"field": "v", "type": "quantitative", "title": "Northing (m)", "scale": {"domain": [-890, 910], "nice": false, "zero": false}, "axis": {"values": [-500, 0, 500], "format": "d", "labelOverlap": false, "titleX": -43, "titleBaseline": "middle"}},
       "color": {"datum": "Truth - Filter_Est", "type": "nominal", "scale": {"domain": ["Truth - Filter_Est", "1 sigma"], "range": ["#0000ff", "#000000"]}}}},
     {"data": {"name": "LNs"}, "mark": "line", "encoding": {"x": {"field": "t", "type": "quantitative", "title": null, "axis": {"values": [0,500,1000,1500,2000,2500,3000,3500], "format": "d", "labelOverlap": false}}, "y": {"field": "u", "type": "quantitative", "title": "Northing (m)", "axis": {"values": [-500, 0, 500], "format": "d", "labelOverlap": false, "titleX": -43, "titleBaseline": "middle"}}, "color": {"datum": "1 sigma", "type": "nominal"}}},
     {"data": {"name": "LNs"}, "mark": "line", "encoding": {"x": {"field": "t", "type": "quantitative", "title": null, "axis": {"values": [0,500,1000,1500,2000,2500,3000,3500], "format": "d", "labelOverlap": false}}, "y": {"field": "l", "type": "quantitative", "title": "Northing (m)", "axis": {"values": [-500, 0, 500], "format": "d", "labelOverlap": false, "titleX": -43, "titleBaseline": "middle"}}, "color": {"datum": "1 sigma", "type": "nominal"}}}
    ]},
   {"width": 336, "height": 73,
    "layer": [
     {"data": {"name": "LEe"}, "mark": "line", "encoding": {
       "x": {"field": "t", "type": "quantitative", "title": null, "scale": {"domain": [-186, 3892], "nice": false, "zero": false}, "axis": {"values": [0,500,1000,1500,2000,2500,3000,3500], "format": "d", "labelOverlap": false}},
       "y": {"field": "v", "type": "quantitative", "title": "Easting (m)", "scale": {"domain": [-2043, 1191], "nice": false, "zero": false}, "axis": {"values": [-2000, 0], "format": "d", "labelOverlap": false, "titleX": -48, "titleBaseline": "middle"}},
       "color": {"datum": "Truth - Filter_Est", "type": "nominal", "scale": {"domain": ["Truth - Filter_Est", "1 sigma"], "range": ["#0000ff", "#000000"]}}}},
     {"data": {"name": "LEs"}, "mark": "line", "encoding": {"x": {"field": "t", "type": "quantitative", "title": null, "axis": {"values": [0,500,1000,1500,2000,2500,3000,3500], "format": "d", "labelOverlap": false}}, "y": {"field": "u", "type": "quantitative", "title": "Easting (m)", "axis": {"values": [-2000, 0], "format": "d", "labelOverlap": false, "titleX": -48, "titleBaseline": "middle"}}, "color": {"datum": "1 sigma", "type": "nominal"}}},
     {"data": {"name": "LEs"}, "mark": "line", "encoding": {"x": {"field": "t", "type": "quantitative", "title": null, "axis": {"values": [0,500,1000,1500,2000,2500,3000,3500], "format": "d", "labelOverlap": false}}, "y": {"field": "l", "type": "quantitative", "title": "Easting (m)", "axis": {"values": [-2000, 0], "format": "d", "labelOverlap": false, "titleX": -48, "titleBaseline": "middle"}}, "color": {"datum": "1 sigma", "type": "nominal"}}}
    ]},
   {"width": 336, "height": 73,
    "layer": [
     {"data": {"name": "LVe"}, "mark": "line", "encoding": {
       "x": {"field": "t", "type": "quantitative", "title": "elapsed time (s)", "scale": {"domain": [-186, 3892], "nice": false, "zero": false}, "axis": {"values": [0,500,1000,1500,2000,2500,3000,3500], "format": "d", "labelOverlap": false}},
       "y": {"field": "v", "type": "quantitative", "title": "Vertical (m)", "scale": {"domain": [-11, 10.7], "nice": false, "zero": false}, "axis": {"values": [-10, 0, 10], "format": "d", "labelOverlap": false, "titleX": -36, "titleBaseline": "middle"}},
       "color": {"datum": "Truth - Filter_Est", "type": "nominal", "scale": {"domain": ["Truth - Filter_Est", "1 sigma"], "range": ["#0000ff", "#000000"]}}}},
     {"data": {"name": "LVs"}, "mark": "line", "encoding": {"x": {"field": "t", "type": "quantitative", "title": "elapsed time (s)", "axis": {"values": [0,500,1000,1500,2000,2500,3000,3500], "format": "d", "labelOverlap": false}}, "y": {"field": "u", "type": "quantitative", "title": "Vertical (m)", "axis": {"values": [-10, 0, 10], "format": "d", "labelOverlap": false, "titleX": -36, "titleBaseline": "middle"}}, "color": {"datum": "1 sigma", "type": "nominal"}}},
     {"data": {"name": "LVs"}, "mark": "line", "encoding": {"x": {"field": "t", "type": "quantitative", "title": "elapsed time (s)", "axis": {"values": [0,500,1000,1500,2000,2500,3000,3500], "format": "d", "labelOverlap": false}}, "y": {"field": "l", "type": "quantitative", "title": "Vertical (m)", "axis": {"values": [-10, 0, 10], "format": "d", "labelOverlap": false, "titleX": -36, "titleBaseline": "middle"}}, "color": {"datum": "1 sigma", "type": "nominal"}}}
    ]}
  ]
 },
 {
  "width": 45, "height": 323,
  "view": {"stroke": null},
  "data": {"values": [{"k": 1}]},
  "mark": {"type": "rect", "strokeWidth": 0, "color": {"gradient": "linear", "x1": 0, "y1": 0, "x2": 1, "y2": 0, "stops": [{"offset": 0, "color": "#ffffff"}, {"offset": 0.73, "color": "#ffffff"}, {"offset": 0.85, "color": "#e4e4e4"}, {"offset": 0.935, "color": "#c4c4c4"}, {"offset": 0.945, "color": "#858585"}, {"offset": 0.985, "color": "#858585"}, {"offset": 0.99, "color": "#ffffff"}, {"offset": 1, "color": "#ffffff"}]}},
  "encoding": {}
 },
 {
  "title": {"text": ["", "Profile 8online \u00a0Position Error State, DRMS=204.41"], "anchor": "middle", "dx": 18.5},
  "spacing": 16,
  "bounds": "flush",
  "resolve": {"scale": {"x": "independent", "y": "independent", "color": "independent"}, "legend": {"color": "independent"}},
  "vconcat": [
   {"width": 327, "height": 73, "view": {"stroke": null},
    "resolve": {"axis": {"x": "independent"}},
    "layer": [
     {"data": {"name": "RNe"}, "mark": "line", "encoding": {
       "x": {"field": "t", "type": "quantitative", "title": null, "scale": {"domain": [-190, 3764], "nice": false, "zero": false}, "axis": {"values": [0,500,1000,1500,2000,2500,3000,3500], "format": "d", "labelOverlap": false, "domain": true}},
       "y": {"field": "v", "type": "quantitative", "title": "Northing (m)", "scale": {"domain": [-892, 909], "nice": false, "zero": false}, "axis": {"values": [-500, 0, 500], "format": "d", "labelOverlap": false, "domain": true, "titleX": -42, "titleBaseline": "middle"}},
       "color": {"datum": "Truth - Filter_Est", "type": "nominal", "scale": {"domain": ["Truth - Filter_Est", "1 sigma"], "range": ["#0000ff", "#000000"]}, "legend": {"legendX": 76}}}},
     {"data": {"name": "RNs"}, "mark": "line", "encoding": {"x": {"field": "t", "type": "quantitative", "title": null, "axis": {"orient": "top", "domain": true, "labels": false, "ticks": false}}, "y": {"field": "u", "type": "quantitative", "title": "Northing (m)", "axis": {"values": [-500, 0, 500], "format": "d", "labelOverlap": false, "domain": true, "titleX": -42, "titleBaseline": "middle"}}, "color": {"datum": "1 sigma", "type": "nominal"}}},
     {"data": {"name": "RNs"}, "mark": "line", "encoding": {"x": {"field": "t", "type": "quantitative", "title": null, "axis": null}, "y": {"field": "l", "type": "quantitative", "title": "Northing (m)", "axis": {"values": [-500, 0, 500], "format": "d", "labelOverlap": false, "domain": true, "titleX": -42, "titleBaseline": "middle"}}, "color": {"datum": "1 sigma", "type": "nominal"}}}
    ]},
   {"width": 327, "height": 73, "view": {"stroke": null},
    "resolve": {"axis": {"x": "independent"}},
    "layer": [
     {"data": {"name": "REe"}, "mark": "line", "encoding": {
       "x": {"field": "t", "type": "quantitative", "title": null, "scale": {"domain": [-190, 3764], "nice": false, "zero": false}, "axis": {"values": [0,500,1000,1500,2000,2500,3000,3500], "format": "d", "labelOverlap": false, "domain": true}},
       "y": {"field": "v", "type": "quantitative", "title": "Easting (m)", "scale": {"domain": [-1010, 1013], "nice": false, "zero": false}, "axis": {"values": [-1000, 0, 1000], "format": "d", "labelOverlap": false, "domain": true, "titleX": -48, "titleBaseline": "middle"}},
       "color": {"datum": "Truth - Filter_Est", "type": "nominal", "scale": {"domain": ["Truth - Filter_Est", "1 sigma"], "range": ["#0000ff", "#000000"]}, "legend": {"legendX": 76}}}},
     {"data": {"name": "REs"}, "mark": "line", "encoding": {"x": {"field": "t", "type": "quantitative", "title": null, "axis": {"orient": "top", "domain": true, "labels": false, "ticks": false}}, "y": {"field": "u", "type": "quantitative", "title": "Easting (m)", "axis": {"values": [-1000, 0, 1000], "format": "d", "labelOverlap": false, "domain": true, "titleX": -48, "titleBaseline": "middle"}}, "color": {"datum": "1 sigma", "type": "nominal"}}},
     {"data": {"name": "REs"}, "mark": "line", "encoding": {"x": {"field": "t", "type": "quantitative", "title": null, "axis": null}, "y": {"field": "l", "type": "quantitative", "title": "Easting (m)", "axis": {"values": [-1000, 0, 1000], "format": "d", "labelOverlap": false, "domain": true, "titleX": -48, "titleBaseline": "middle"}}, "color": {"datum": "1 sigma", "type": "nominal"}}}
    ]},
   {"width": 327, "height": 73, "view": {"stroke": null},
    "resolve": {"axis": {"x": "independent"}},
    "layer": [
     {"data": {"name": "RVe"}, "mark": "line", "encoding": {
       "x": {"field": "t", "type": "quantitative", "title": "elapsed time (s)", "scale": {"domain": [-190, 3764], "nice": false, "zero": false}, "axis": {"values": [0,500,1000,1500,2000,2500,3000,3500], "format": "d", "labelOverlap": false, "domain": true}},
       "y": {"field": "v", "type": "quantitative", "title": "Vertical (m)", "scale": {"domain": [-11, 10.7], "nice": false, "zero": false}, "axis": {"values": [-10, 0, 10], "format": "d", "labelOverlap": false, "domain": true, "titleX": -34, "titleBaseline": "middle"}},
       "color": {"datum": "Truth - Filter_Est", "type": "nominal", "scale": {"domain": ["Truth - Filter_Est", "1 sigma"], "range": ["#0000ff", "#000000"]}, "legend": {"legendX": 76}}}},
     {"data": {"name": "RVs"}, "mark": "line", "encoding": {"x": {"field": "t", "type": "quantitative", "title": null, "axis": {"orient": "top", "domain": true, "labels": false, "ticks": false}}, "y": {"field": "u", "type": "quantitative", "title": "Vertical (m)", "axis": {"values": [-10, 0, 10], "format": "d", "labelOverlap": false, "domain": true, "titleX": -34, "titleBaseline": "middle"}}, "color": {"datum": "1 sigma", "type": "nominal"}}},
     {"data": {"name": "RVs"}, "mark": "line", "encoding": {"x": {"field": "t", "type": "quantitative", "title": null, "axis": null}, "y": {"field": "l", "type": "quantitative", "title": "Vertical (m)", "axis": {"values": [-10, 0, 10], "format": "d", "labelOverlap": false, "domain": true, "titleX": -34, "titleBaseline": "middle"}}, "color": {"datum": "1 sigma", "type": "nominal"}}}
    ]}
  ]
 }
]
}
